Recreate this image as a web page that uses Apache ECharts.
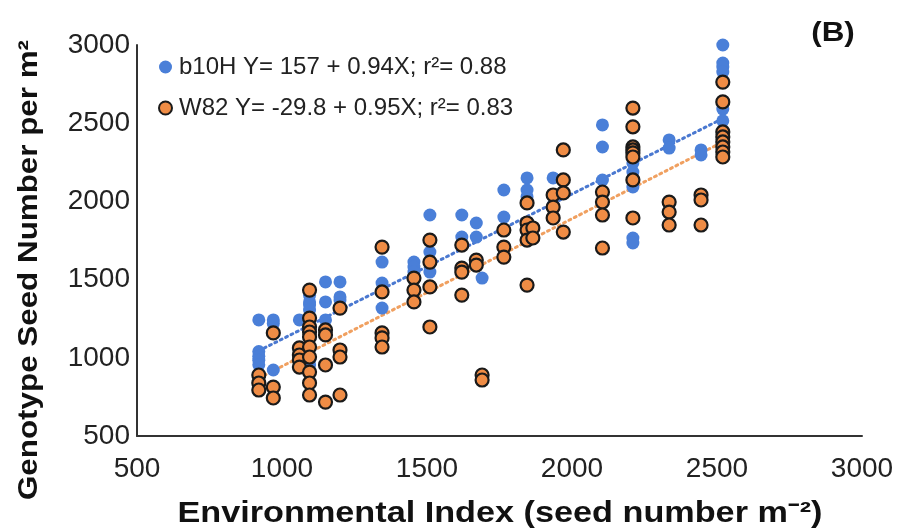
<!DOCTYPE html>
<html>
<head>
<meta charset="utf-8">
<script src="https://cdn.jsdelivr.net/npm/echarts@6/dist/echarts.min.js"></script>
<style>html,body{margin:0;padding:0;background:#fff}#c{width:904px;height:531px}</style>
</head>
<body>
<div id="c"></div>
<script>
// ---- data ----
const xTicks = [500, 1000, 1500, 2000, 2500, 3000];
const yTicks = [500, 1000, 1500, 2000, 2500, 3000];
const seriesNames = ['b10H Y= 157 + 0.94X; r\u00B2= 0.88', 'W82 Y= -29.8 + 0.95X; r\u00B2= 0.83'];

// b10H points: [environmental index, seed number]
const b10H = [
  [920,1242],[920,1040],[920,1010],[920,985],[920,955],
  [970,1242],[970,1220],[970,922],
  [1060,1242],
  [1095,1400],[1095,1357],[1095,1337],[1095,1305],[1095,1260],[1095,986],[1095,954],[1095,903],
  [1150,1485],[1150,1357],[1150,1242],
  [1200,1485],[1200,1389],[1200,1370],
  [1345,1612],[1345,1478],[1345,1318],
  [1455,1612],[1455,1580],[1455,1548],
  [1510,1913],[1510,1676],[1510,1548],
  [1620,1913],[1620,1772],
  [1670,1862],[1670,1772],
  [1690,1510],
  [1765,2073],[1765,1900],
  [1845,2150],[1845,2073],[1845,2030],[1845,1990],
  [1935,2150],[1935,1977],[1935,1958],
  [2105,2489],[2105,2348],[2105,2137],
  [2210,2246],[2210,2188],[2210,2092],[2210,1766],[2210,1734],
  [2335,2393],[2335,2341],
  [2445,2329],[2445,2297],
  [2520,3000],[2520,2885],[2520,2859],[2520,2827],[2520,2590],[2520,2515]
];
// W82 points
const w82 = [
  [920,890],[920,839],[920,794],
  [970,1159],[970,813],[970,743],
  [1060,1063],[1060,1018],[1060,986],[1060,941],
  [1095,1433],[1095,1254],[1095,1197],[1095,1165],[1095,1133],[1095,1069],[1095,1005],[1095,909],[1095,839],[1095,762],
  [1150,1178],[1150,1146],[1150,954],[1150,717],
  [1200,1318],[1200,1050],[1200,1005],[1200,762],
  [1345,1708],[1345,1421],[1345,1159],[1345,1127],[1345,1069],
  [1455,1510],[1455,1433],[1455,1357],
  [1510,1753],[1510,1612],[1510,1453],[1510,1197],
  [1620,1721],[1620,1574],[1620,1548],[1620,1401],
  [1670,1625],[1670,1593],
  [1690,890],[1690,858],
  [1765,1817],[1765,1708],[1765,1644],
  [1845,1990],[1845,1862],[1845,1817],[1845,1753],[1845,1465],
  [1865,1830],[1865,1766],
  [1935,2041],[1935,1964],[1935,1894],
  [1970,2329],[1970,2137],[1970,2054],[1970,1804],
  [2105,2060],[2105,1996],[2105,1913],[2105,1702],
  [2210,2597],[2210,2477],[2210,2348],[2210,2329],[2210,2310],[2210,2284],[2210,2137],[2210,1894],
  [2335,1996],[2335,1932],[2335,1849],
  [2445,2041],[2445,2009],[2445,1849],
  [2520,2763],[2520,2636],[2520,2444],[2520,2412],[2520,2380],[2520,2348],[2520,2316],[2520,2284]
];
// trend line end points (as drawn)
const trendB10H = [[920,1045],[2520,2530]];
const trendW82 = [[920,870],[2520,2380]];

const FONT = 'Liberation Sans, Arial, sans-serif';
const chart = echarts.init(document.getElementById('c'), null, {renderer:'canvas'});
chart.setOption({
  backgroundColor:'#ffffff',
  animation:false,
  grid:{left:137, right:42, top:45, bottom:95, containLabel:false},
  xAxis:{
    type:'value', min:xTicks[0], max:xTicks[xTicks.length-1], interval:500,
    axisLine:{show:true, onZero:false, lineStyle:{color:'#333', width:2}},
    axisTick:{show:false}, splitLine:{show:false},
    axisLabel:{color:'#222', fontSize:28, fontFamily:FONT, margin:19, formatter:v=>String(v)}
  },
  yAxis:{
    type:'value', min:yTicks[0], max:yTicks[yTicks.length-1], interval:500,
    axisLine:{show:true, onZero:false, lineStyle:{color:'#333', width:2}},
    axisTick:{show:false}, splitLine:{show:false},
    axisLabel:{color:'#222', fontSize:28, fontFamily:FONT, margin:7, formatter:v=>String(v)}
  },
  legend:{
    orient:'vertical', left:153, top:50, itemGap:17, itemWidth:13, itemHeight:13,
    icon:'circle',
    textStyle:{fontSize:24, fontFamily:FONT, color:'#222', padding:[0,0,0,2]},
    data:seriesNames
  },
  series:[
    {name:'b10H trend', type:'line', data:trendB10H, showSymbol:false, symbol:'none',
     itemStyle:{color:'#4a78d0'},
     lineStyle:{color:'#4a78d0', width:3, type:[2,4], cap:'round'}, z:1},
    {name:'W82 trend', type:'line', data:trendW82, showSymbol:false, symbol:'none',
     itemStyle:{color:'#f0a060'},
     lineStyle:{color:'#f0a060', width:3, type:[2,4], cap:'round'}, z:1},
    {name:seriesNames[0], type:'scatter', data:b10H, symbol:'circle', symbolSize:13,
     itemStyle:{color:'#4a7fd8', opacity:1}, z:3},
    {name:seriesNames[1], type:'scatter', data:w82, symbol:'circle', symbolSize:13,
     itemStyle:{color:'#ef8c45', borderColor:'#1a1a1a', borderWidth:2.2, opacity:1}, z:4}
  ],
  graphic:[
    {type:'text', x:833, y:33, scaleX:1.12,
     style:{text:'(B)', font:'bold 28px '+FONT, fill:'#111', align:'center', verticalAlign:'middle'}},
    {type:'text', x:29, y:270, rotation:Math.PI/2, scaleX:1.12,
     style:{text:'Genotype Seed Number per m\u00B2', font:'bold 28px '+FONT, fill:'#111', align:'center', verticalAlign:'middle'}},
    {type:'text', x:500, y:514, scaleX:1.18,
     style:{text:'Environmental Index (seed number m\u207B\u00B2)', font:'bold 29px '+FONT, fill:'#111', align:'center', verticalAlign:'middle'}}
  ]
});
</script>
</body>
</html>
